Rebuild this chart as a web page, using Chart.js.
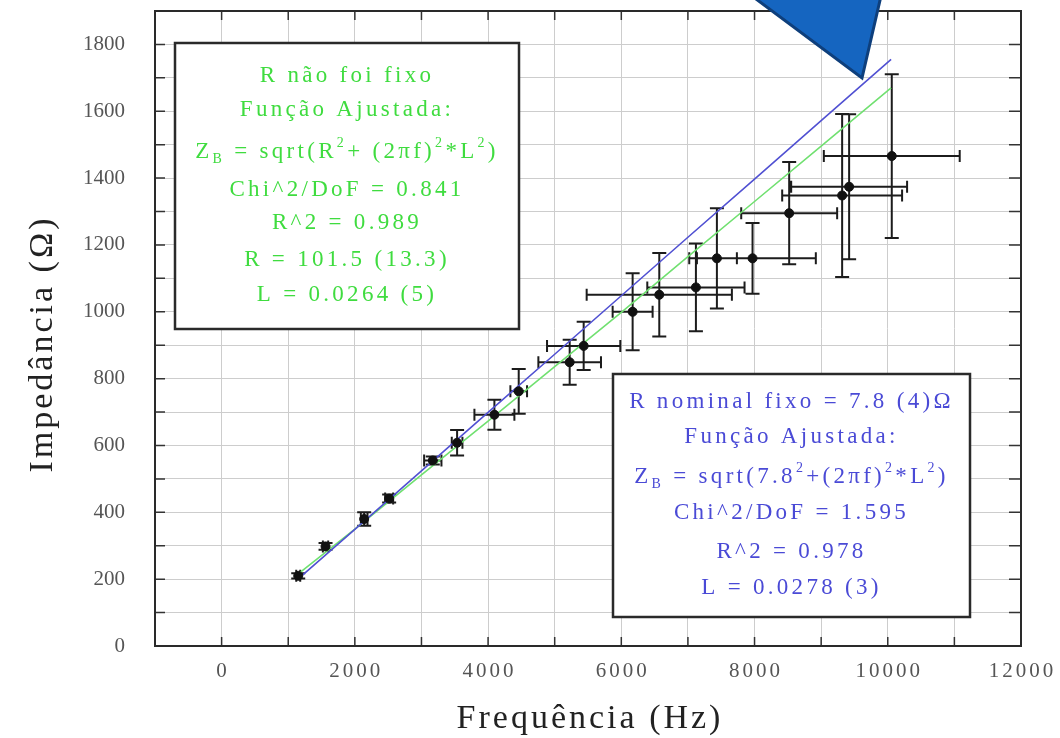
<!DOCTYPE html>
<html>
<head>
<meta charset="utf-8">
<script src="https://cdn.jsdelivr.net/npm/chart.js@4.4.1/dist/chart.umd.min.js"></script>
<style>
  html, body { margin: 0; padding: 0; background: #fff; }
  #wrap { width: 1060px; height: 738px; }
</style>
</head>
<body>
<div id="wrap"><canvas id="chart" width="1060" height="738"></canvas></div>
<script>
// measured points (Hz, ohm) and their error bars
const freq    = [1150, 1560, 2140, 2515, 3170, 3535, 4095, 4460, 5225, 5435, 6170, 6570, 7120, 7435, 7970, 8520, 9315, 9420, 10060];
const imp     = [210, 298, 380, 441, 555, 608, 692, 762, 849, 898, 1000, 1051, 1073, 1160, 1160, 1295, 1348, 1374, 1466];
const freqErr = [30, 40, 50, 60, 130, 80, 300, 125, 470, 550, 300, 1090, 730, 300, 950, 720, 900, 870, 1020];
const impErr  = [8, 10, 20, 12, 12, 38, 45, 67, 67, 72, 115, 125, 131, 150, 106, 153, 244, 217, 245];

// fitted curves
const fitFreq  = [1150, 2000, 3000, 4000, 5000, 6000, 7000, 8000, 9000, 10050];
const blueFit  = [201, 349, 524, 699, 873, 1048, 1223, 1397, 1572, 1755];
const greenFit = [216, 350, 512, 673, 836, 998, 1165, 1330, 1496, 1670];

const xTickLabels = [0, 2000, 4000, 6000, 8000, 10000, 12000];

const greenLines = [
    "R não foi fixo",
    "Função Ajustada:",
    [["Z"], ["B", "sub"], [" = sqrt(R"], ["2", "sup"], ["+ (2πf)"], ["2", "sup"], ["*L"], ["2", "sup"], [")"]],
    "Chi^2/DoF = 0.841",
    "R^2 = 0.989",
    "R = 101.5 (13.3)",
    "L = 0.0264 (5)"
];
const blueLines = [
    "R nominal fixo = 7.8 (4)Ω",
    "Função Ajustada:",
    [["Z"], ["B", "sub"], [" = sqrt(7.8"], ["2", "sup"], ["+(2πf)"], ["2", "sup"], ["*L"], ["2", "sup"], [")"]],
    "Chi^2/DoF = 1.595",
    "R^2 = 0.978",
    "L = 0.0278 (3)"
];

const serif = '"Liberation Serif", "DejaVu Serif", serif';

const drawRich = (ctx, line, cx, cy, size, spacing) => {
    const parts = typeof line === "string" ? [[line]] : line;
    const fontFor = (kind) => `${kind ? Math.round(size * 0.6) : size}px ${serif}`;
    ctx.letterSpacing = `${spacing}px`;
    let total = 0;
    const widths = parts.map(([t, kind]) => {
        ctx.font = fontFor(kind);
        const w = ctx.measureText(t).width;
        total += w;
        return w;
    });
    let x = cx - total / 2;
    ctx.textAlign = "left";
    ctx.textBaseline = "middle";
    parts.forEach(([t, kind], i) => {
        ctx.font = fontFor(kind);
        let dy = 0;
        if (kind === "sup") dy = -size * 0.38;
        if (kind === "sub") dy = size * 0.32;
        ctx.fillText(t, x, cy + dy);
        x += widths[i];
    });
    ctx.letterSpacing = "0px";
};

const drawBox = (ctx, x0, y0, x1, y1, lines, ys, color) => {
    ctx.save();
    ctx.fillStyle = "#fff";
    ctx.fillRect(x0, y0, x1 - x0, y1 - y0);
    ctx.strokeStyle = "#2a2a2a";
    ctx.lineWidth = 2.5;
    ctx.strokeRect(x0, y0, x1 - x0, y1 - y0);
    ctx.fillStyle = color;
    const cx = (x0 + x1) / 2;
    lines.forEach((line, i) => drawRich(ctx, line, cx, ys[i], 23, 3.3));
    ctx.restore();
};

const errorBars = {
    id: "errorBars",
    beforeDatasetsDraw(chart) {
        const { ctx, scales: { x, y } } = chart;
        ctx.save();
        ctx.strokeStyle = "#1c1c1c";
        ctx.lineWidth = 2;
        ctx.beginPath();
        freq.forEach((f, i) => {
            const px = x.getPixelForValue(f);
            const py = y.getPixelForValue(imp[i]);
            const xa = x.getPixelForValue(f - freqErr[i]);
            const xb = x.getPixelForValue(f + freqErr[i]);
            const ya = y.getPixelForValue(imp[i] - impErr[i]);
            const yb = y.getPixelForValue(imp[i] + impErr[i]);
            ctx.moveTo(xa, py); ctx.lineTo(xb, py);
            ctx.moveTo(xa, py - 6); ctx.lineTo(xa, py + 6);
            ctx.moveTo(xb, py - 6); ctx.lineTo(xb, py + 6);
            ctx.moveTo(px, ya); ctx.lineTo(px, yb);
            ctx.moveTo(px - 7, ya); ctx.lineTo(px + 7, ya);
            ctx.moveTo(px - 7, yb); ctx.lineTo(px + 7, yb);
        });
        ctx.stroke();
        ctx.restore();
    }
};

const frame = {
    id: "frame",
    afterDraw(chart) {
        const { ctx, chartArea: a, scales: { x, y } } = chart;
        ctx.save();
        // inner tick marks on all four sides
        ctx.strokeStyle = "#333";
        ctx.lineWidth = 1.5;
        ctx.beginPath();
        x.ticks.forEach(t => {
            const px = x.getPixelForValue(t.value);
            ctx.moveTo(px, a.bottom); ctx.lineTo(px, a.bottom - 9);
            ctx.moveTo(px, a.top); ctx.lineTo(px, a.top + 9);
        });
        y.ticks.forEach(t => {
            const py = y.getPixelForValue(t.value);
            ctx.moveTo(a.left, py); ctx.lineTo(a.left + 10, py);
            ctx.moveTo(a.right, py); ctx.lineTo(a.right - 12, py);
        });
        ctx.stroke();
        ctx.strokeStyle = "#2a2a2a";
        ctx.lineWidth = 2;
        ctx.strokeRect(a.left, a.top, a.right - a.left, a.bottom - a.top);

        // x tick labels (drawn here for the wider letter spacing)
        ctx.fillStyle = "#555";
        ctx.font = `21px ${serif}`;
        ctx.textAlign = "center";
        ctx.textBaseline = "middle";
        ctx.letterSpacing = "3px";
        xTickLabels.forEach(v => {
            ctx.fillText(String(v), x.getPixelForValue(v) + 1.5, 671);
        });
        ctx.letterSpacing = "0px";

        drawBox(ctx, 175, 43, 519, 329, greenLines, [76, 110, 152, 190, 223, 260, 295], "#3fdc3f");
        drawBox(ctx, 613, 374, 970, 617, blueLines, [402, 437, 477, 513, 552, 588], "#4a4ad6");

        // axis titles
        ctx.fillStyle = "#222";
        ctx.textAlign = "center";
        ctx.textBaseline = "middle";
        ctx.letterSpacing = "3px";
        ctx.font = `34px ${serif}`;
        ctx.fillText("Frequência (Hz)", 590, 719);
        ctx.translate(43, 344);
        ctx.rotate(-Math.PI / 2);
        ctx.fillText("Impedância (Ω)", 0, 0);
        ctx.setTransform(1, 0, 0, 1, 0, 0);
        ctx.letterSpacing = "0px";

        // blue call-out arrow overlay
        ctx.beginPath();
        ctx.moveTo(752, -4);
        ctx.lineTo(881, -4);
        ctx.lineTo(862, 78);
        ctx.closePath();
        ctx.fillStyle = "#1565c0";
        ctx.fill();
        ctx.strokeStyle = "#0e3f7c";
        ctx.lineWidth = 3;
        ctx.stroke();
        ctx.restore();
    }
};

const toXY = (xs, ys) => xs.map((v, i) => ({ x: v, y: ys[i] }));

new Chart(document.getElementById("chart"), {
    type: "scatter",
    data: {
        datasets: [
            {
                label: "Medidas",
                data: toXY(freq, imp),
                pointRadius: 4.5,
                backgroundColor: "#111",
                borderColor: "#111",
                order: 0
            },
            {
                label: "R nominal fixo",
                data: toXY(fitFreq, blueFit),
                showLine: true,
                borderColor: "#5050d2",
                borderWidth: 1.6,
                pointRadius: 0,
                order: 1
            },
            {
                label: "R livre",
                data: toXY(fitFreq, greenFit),
                showLine: true,
                borderColor: "#70e070",
                borderWidth: 1.6,
                pointRadius: 0,
                order: 2
            }
        ]
    },
    options: {
        responsive: false,
        animation: false,
        layout: { padding: { top: 11, right: 39, left: 0, bottom: 0 } },
        plugins: { legend: { display: false }, tooltip: { enabled: false } },
        scales: {
            x: {
                type: "linear",
                min: -1000,
                max: 12000,
                afterFit: (s) => {
                    s.height = 92;
                    s.paddingLeft = 0;
                    s.paddingRight = 0;
                },
                grid: { color: "#cdcdcd", drawTicks: false },
                border: { display: false },
                ticks: {
                    stepSize: 1000,
                    autoSkip: false,
                    maxRotation: 0,
                    display: false
                }
            },
            y: {
                type: "linear",
                min: 0,
                max: 1900,
                afterFit: (s) => {
                    s.width = 155;
                    s.paddingTop = 0;
                    s.paddingBottom = 0;
                },
                grid: { color: "#cdcdcd", drawTicks: false },
                border: { display: false },
                ticks: {
                    stepSize: 100,
                    autoSkip: false,
                    padding: 30,
                    color: "#555",
                    font: { family: serif, size: 21 },
                    callback: (v) => (v % 200 === 0 ? String(v) : "")
                }
            }
        }
    },
    plugins: [errorBars, frame]
});
</script>
</body>
</html>
